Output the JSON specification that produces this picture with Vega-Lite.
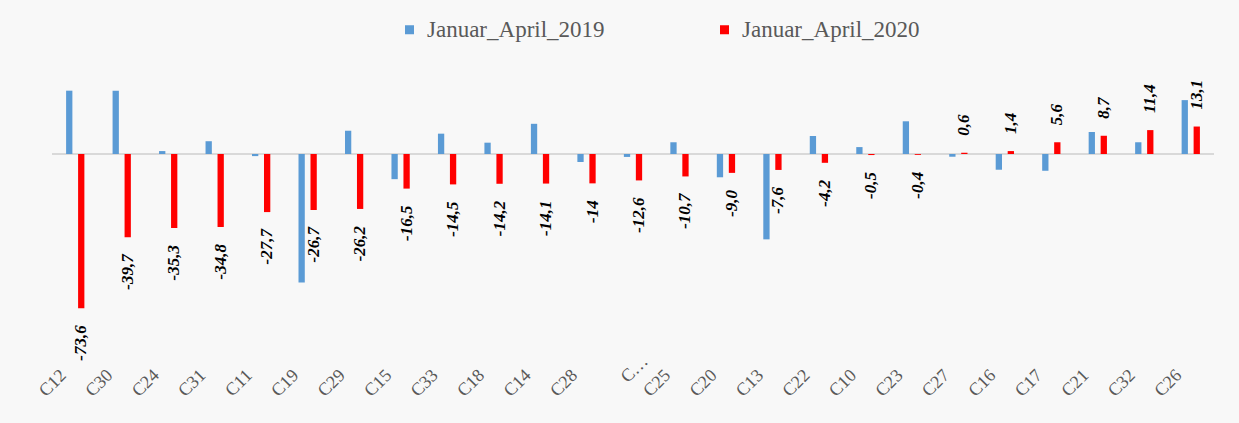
{
  "$schema": "https://vega.github.io/schema/vega-lite/v6.json",
  "autosize": "none",
  "width": 1162,
  "height": 270,
  "padding": {"left": 52, "top": 60, "right": 25, "bottom": 93},
  "background": "#f8f8f8",
  "config": {"view": {"stroke": null}},
  "data": {
    "values": [
      {"cat": "C12", "series": "Januar_April_2019", "value": 30.2},
      {"cat": "C12", "series": "Januar_April_2020", "value": -73.6, "label": "-73,6"},
      {"cat": "C30", "series": "Januar_April_2019", "value": 30.2},
      {"cat": "C30", "series": "Januar_April_2020", "value": -39.7, "label": "-39,7"},
      {"cat": "C24", "series": "Januar_April_2019", "value": 1.4},
      {"cat": "C24", "series": "Januar_April_2020", "value": -35.3, "label": "-35,3"},
      {"cat": "C31", "series": "Januar_April_2019", "value": 6.1},
      {"cat": "C31", "series": "Januar_April_2020", "value": -34.8, "label": "-34,8"},
      {"cat": "C11", "series": "Januar_April_2019", "value": -1.0},
      {"cat": "C11", "series": "Januar_April_2020", "value": -27.7, "label": "-27,7"},
      {"cat": "C19", "series": "Januar_April_2019", "value": -61.3},
      {"cat": "C19", "series": "Januar_April_2020", "value": -26.7, "label": "-26,7"},
      {"cat": "C29", "series": "Januar_April_2019", "value": 11.1},
      {"cat": "C29", "series": "Januar_April_2020", "value": -26.2, "label": "-26,2"},
      {"cat": "C15", "series": "Januar_April_2019", "value": -12.0},
      {"cat": "C15", "series": "Januar_April_2020", "value": -16.5, "label": "-16,5"},
      {"cat": "C33", "series": "Januar_April_2019", "value": 9.7},
      {"cat": "C33", "series": "Januar_April_2020", "value": -14.5, "label": "-14,5"},
      {"cat": "C18", "series": "Januar_April_2019", "value": 5.4},
      {"cat": "C18", "series": "Januar_April_2020", "value": -14.2, "label": "-14,2"},
      {"cat": "C14", "series": "Januar_April_2019", "value": 14.4},
      {"cat": "C14", "series": "Januar_April_2020", "value": -14.1, "label": "-14,1"},
      {"cat": "C28", "series": "Januar_April_2019", "value": -3.8},
      {"cat": "C28", "series": "Januar_April_2020", "value": -14.0, "label": "-14"},
      {"cat": "C…", "series": "Januar_April_2019", "value": -1.4},
      {"cat": "C…", "series": "Januar_April_2020", "value": -12.6, "label": "-12,6"},
      {"cat": "C25", "series": "Januar_April_2019", "value": 5.6},
      {"cat": "C25", "series": "Januar_April_2020", "value": -10.7, "label": "-10,7"},
      {"cat": "C20", "series": "Januar_April_2019", "value": -11.1},
      {"cat": "C20", "series": "Januar_April_2020", "value": -9.0, "label": "-9,0"},
      {"cat": "C13", "series": "Januar_April_2019", "value": -40.7},
      {"cat": "C13", "series": "Januar_April_2020", "value": -7.6, "label": "-7,6"},
      {"cat": "C22", "series": "Januar_April_2019", "value": 8.6},
      {"cat": "C22", "series": "Januar_April_2020", "value": -4.2, "label": "-4,2"},
      {"cat": "C10", "series": "Januar_April_2019", "value": 3.3},
      {"cat": "C10", "series": "Januar_April_2020", "value": -0.5, "label": "-0,5"},
      {"cat": "C23", "series": "Januar_April_2019", "value": 15.6},
      {"cat": "C23", "series": "Januar_April_2020", "value": -0.4, "label": "-0,4"},
      {"cat": "C27", "series": "Januar_April_2019", "value": -1.3},
      {"cat": "C27", "series": "Januar_April_2020", "value": 0.6, "label": "0,6"},
      {"cat": "C16", "series": "Januar_April_2019", "value": -7.5},
      {"cat": "C16", "series": "Januar_April_2020", "value": 1.4, "label": "1,4"},
      {"cat": "C17", "series": "Januar_April_2019", "value": -8.0},
      {"cat": "C17", "series": "Januar_April_2020", "value": 5.6, "label": "5,6"},
      {"cat": "C21", "series": "Januar_April_2019", "value": 10.5},
      {"cat": "C21", "series": "Januar_April_2020", "value": 8.7, "label": "8,7"},
      {"cat": "C32", "series": "Januar_April_2019", "value": 5.6},
      {"cat": "C32", "series": "Januar_April_2020", "value": 11.4, "label": "11,4"},
      {"cat": "C26", "series": "Januar_April_2019", "value": 25.7},
      {"cat": "C26", "series": "Januar_April_2020", "value": 13.1, "label": "13,1"}
    ]
  },
  "encoding": {
    "x": {
      "field": "cat", "type": "nominal", "sort": null,
      "scale": {"paddingInner": 0.484, "paddingOuter": 0.242},
      "axis": {
        "title": null, "domain": false, "ticks": false, "labelAngle": -45,
        "labelFont": "Liberation Serif", "labelFontSize": 18, "labelColor": "#595959",
        "labelPadding": {"condition": {"test": "datum.value === 'C…'", "value": 22}, "value": 36},
        "labelOffset": {"condition": {"test": "datum.value === 'C…'", "value": 6}, "value": -18}
      }
    }
  },
  "layer": [
    {
      "data": {"values": [{"z": 0}]},
      "mark": {"type": "rule", "color": "#d9d9d9", "strokeWidth": 2},
      "encoding": {
        "x": null,
        "y": {"field": "z", "type": "quantitative", "scale": {"domain": [-83.93, 44.83], "nice": false, "zero": false}, "axis": null}
      }
    },
    {
      "mark": {"type": "bar"},
      "encoding": {
        "xOffset": {"field": "series", "type": "nominal", "scale": {"paddingInner": 0.475, "paddingOuter": 0.2375}},
        "y": {"field": "value", "type": "quantitative", "scale": {"domain": [-83.93, 44.83], "nice": false, "zero": false}, "axis": null},
        "color": {
          "field": "series", "type": "nominal",
          "scale": {"domain": ["Januar_April_2019", "Januar_April_2020"], "range": ["#5b9bd5", "#ff0000"]},
          "legend": {
            "orient": "none", "legendX": 346, "legendY": -42, "direction": "horizontal", "title": null,
            "symbolType": "square", "symbolSize": 81, "symbolStrokeWidth": 0,
            "labelFont": "Liberation Serif", "labelFontSize": 23, "labelColor": "#595959",
            "labelOffset": 6, "columnPadding": 108, "labelLimit": 400
          }
        }
      }
    },
    {
      "transform": [{"filter": "datum.series === 'Januar_April_2020' && datum.value < 0"}],
      "mark": {"type": "text", "angle": 270, "align": "right", "baseline": "middle", "dx": -17,
               "font": "Liberation Serif", "fontStyle": "italic", "fontWeight": "bold", "fontSize": 17, "color": "#000000"},
      "encoding": {
        "xOffset": {"field": "series", "type": "nominal", "scale": {"paddingInner": 0.475, "paddingOuter": 0.2375}},
        "y": {"field": "value", "type": "quantitative", "scale": {"domain": [-83.93, 44.83], "nice": false, "zero": false}, "axis": null},
        "text": {"field": "label"}
      }
    },
    {
      "transform": [{"filter": "datum.series === 'Januar_April_2020' && datum.value >= 0"}],
      "mark": {"type": "text", "angle": 270, "align": "left", "baseline": "middle", "dx": 17,
               "font": "Liberation Serif", "fontStyle": "italic", "fontWeight": "bold", "fontSize": 17, "color": "#000000"},
      "encoding": {
        "xOffset": {"field": "series", "type": "nominal", "scale": {"paddingInner": 0.475, "paddingOuter": 0.2375}},
        "y": {"field": "value", "type": "quantitative", "scale": {"domain": [-83.93, 44.83], "nice": false, "zero": false}, "axis": null},
        "text": {"field": "label"}
      }
    }
  ]
}
